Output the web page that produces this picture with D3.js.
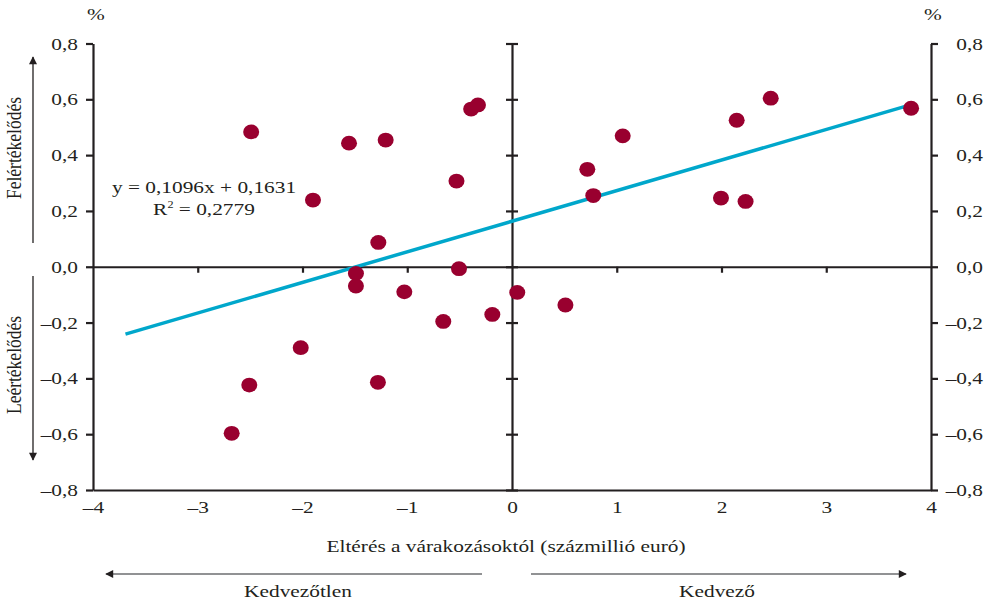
<!DOCTYPE html>
<html lang="hu">
<head>
<meta charset="utf-8">
<script src="https://cdn.jsdelivr.net/npm/d3@7/dist/d3.min.js"></script>
<style>
  html, body { margin: 0; padding: 0; background: #fff; }
  svg { display: block; }
  svg text { font-family: "Liberation Serif", "Times New Roman", serif; font-size: 17.5px; fill: #231f20; }
</style>
</head>
<body>
<svg id="chart" width="992" height="602"></svg>
<script>
// Deviation from expectations (hundred million euro) vs. exchange-rate move (%)
const surpriseX = [-2.49, -1.90, -1.556, -1.206, -0.39, -0.325, -0.53, -1.276,
  -1.49, -1.49, -0.506, -1.028, -0.656, -0.188, 0.05, 0.51, -1.28, -2.017,
  -2.508, -2.676, 0.719, 0.776, 1.057, 1.995, 2.23, 2.145, 2.47, 3.81];
const moveY = [0.483, 0.239, 0.443, 0.454, 0.565, 0.58, 0.307, 0.087,
  -0.024, -0.069, -0.007, -0.09, -0.196, -0.171, -0.092, -0.137, -0.414, -0.29,
  -0.424, -0.597, 0.349, 0.255, 0.469, 0.246, 0.234, 0.525, 0.604, 0.568];

// Fitted trend: y = 0,1096x + 0,1631
const slope = 0.1096;
const intercept = 0.1631;
const trendRange = [-3.69, 3.82];

const xTicks = [-4, -3, -2, -1, 0, 1, 2, 3, 4];
const xTickLabels = ["–4", "–3", "–2", "–1", "0", "1", "2", "3", "4"];
const yTicks = [-0.8, -0.6, -0.4, -0.2, 0, 0.2, 0.4, 0.6, 0.8];
const yTickLabels = ["–0,8", "–0,6", "–0,4", "–0,2", "0,0", "0,2", "0,4", "0,6", "0,8"];

const ink = "#231f20";
const dotColor = "#99002f";
const trendColor = "#00a7cb";
const WIDE = 1.22; // horizontal widening of the serif lettering

const svg = d3.select("#chart");

const x = d3.scaleLinear().domain([-4, 4]).range([93, 931]);
const y = d3.scaleLinear().domain([-0.8, 0.8]).range([490, 43.5]);

const yLabel = v => yTickLabels[yTicks.findIndex(t => Math.abs(t - v) < 1e-9)];
const xLabel = v => xTickLabels[xTicks.indexOf(v)];

// Move a text's x/y into a transform so the glyphs can be widened around the anchor
function widen(sel) {
  sel.each(function () {
    const t = d3.select(this);
    const tx = +t.attr("x") || 0, ty = +t.attr("y") || 0;
    t.attr("x", 0).attr("y", 0)
      .attr("transform", `translate(${tx},${ty}) scale(${WIDE},1)`);
  });
}

function styleAxis(g) {
  g.attr("font-family", null).attr("font-size", null);
  g.select(".domain").attr("stroke", ink).attr("stroke-width", 2.2);
  g.selectAll(".tick line").attr("stroke", ink).attr("stroke-width", 2.2);
}

// Left value axis
const left = svg.append("g")
  .attr("transform", `translate(${x(-4)},0)`)
  .call(d3.axisLeft(y).tickValues(yTicks).tickSizeInner(7).tickSizeOuter(0)
    .tickPadding(8).tickFormat(yLabel))
  .call(styleAxis);
left.selectAll(".tick text").call(widen);

// Right value axis, labels right-aligned
const right = svg.append("g")
  .attr("transform", `translate(${x(4)},0)`)
  .call(d3.axisRight(y).tickValues(yTicks).tickSizeInner(7).tickSizeOuter(0)
    .tickFormat(yLabel))
  .call(styleAxis);
right.selectAll(".tick text").attr("text-anchor", "end").attr("x", 52).call(widen);

// Bottom frame with labels only
const bottom = svg.append("g")
  .attr("transform", `translate(0,${y(-0.8)})`)
  .call(d3.axisBottom(x).tickValues(xTicks).tickSize(0).tickPadding(11).tickFormat(xLabel))
  .call(styleAxis);
bottom.selectAll(".tick text").call(widen);

// Horizontal zero line with downward ticks
svg.append("g")
  .attr("transform", `translate(0,${y(0)})`)
  .call(d3.axisBottom(x).tickValues(xTicks.filter(v => v !== 0 && Math.abs(v) !== 4))
    .tickSizeInner(6).tickSizeOuter(0).tickFormat(""))
  .call(styleAxis);

// Vertical zero line with ticks crossing it
const mid = svg.append("g")
  .attr("transform", `translate(${x(0)},0)`)
  .call(d3.axisLeft(y).tickValues(yTicks).tickSizeInner(6).tickSizeOuter(0).tickFormat(""))
  .call(styleAxis);
mid.selectAll(".tick line").attr("x1", 6).attr("x2", -6);

// Trend line
svg.append("line")
  .attr("x1", x(trendRange[0])).attr("y1", y(slope * trendRange[0] + intercept))
  .attr("x2", x(trendRange[1])).attr("y2", y(slope * trendRange[1] + intercept))
  .attr("stroke", trendColor).attr("stroke-width", 3.5);

// Observations
svg.append("g").selectAll("ellipse")
  .data(surpriseX.map((v, i) => [v, moveY[i]]))
  .join("ellipse")
  .attr("cx", d => x(d[0])).attr("cy", d => y(d[1]))
  .attr("rx", 8).attr("ry", 7.4)
  .attr("fill", dotColor);

const labels = svg.append("g");

// Regression equation
labels.append("text").attr("x", 204).attr("y", 193).attr("text-anchor", "middle")
  .text("y = 0,1096x + 0,1631");
const r2 = labels.append("text").attr("x", 204).attr("y", 215).attr("text-anchor", "middle");
r2.append("tspan").text("R");
r2.append("tspan").style("font-size", "10px").attr("dy", -7).text("2");
r2.append("tspan").attr("dy", 7).text(" = 0,2779");

// Unit labels
labels.append("text").attr("x", 96).attr("y", 20).attr("text-anchor", "middle").text("%");
labels.append("text").attr("x", 933).attr("y", 20).attr("text-anchor", "middle").text("%");

// Axis title
labels.append("text").attr("x", 506).attr("y", 552).attr("text-anchor", "middle")
  .text("Eltérés a várakozásoktól (százmillió euró)");

labels.append("text").attr("x", 298).attr("y", 597).attr("text-anchor", "middle")
  .text("Kedvezőtlen");
labels.append("text").attr("x", 717).attr("y", 597).attr("text-anchor", "middle")
  .text("Kedvező");

labels.selectAll("text").call(widen);

// Direction arrows
const defs = svg.append("defs");
defs.append("marker").attr("id", "head").attr("viewBox", "0 0 10 10")
  .attr("refX", 9).attr("refY", 5).attr("markerWidth", 10).attr("markerHeight", 8)
  .attr("markerUnits", "userSpaceOnUse").attr("orient", "auto")
  .append("path").attr("d", "M0,0 L10,5 L0,10 Z").attr("fill", ink);

function arrow(x1, y1, x2, y2, color) {
  svg.append("line").attr("x1", x1).attr("y1", y1).attr("x2", x2).attr("y2", y2)
    .attr("stroke", color).attr("stroke-width", 1.3).attr("marker-end", "url(#head)");
}
arrow(482, 574, 106, 574, "#6d6e71");
arrow(531, 574, 906, 574, "#6d6e71");
arrow(33, 243, 33, 57, ink);
arrow(33, 276, 33, 460, ink);

// Side captions, rotated; widening applies across the glyph height
svg.append("text").attr("transform", `translate(21,148) rotate(-90) scale(1,${WIDE})`)
  .attr("text-anchor", "middle").text("Felértékelődés");
svg.append("text").attr("transform", `translate(21,365) rotate(-90) scale(1,${WIDE})`)
  .attr("text-anchor", "middle").text("Leértékelődés");
</script>
</body>
</html>
